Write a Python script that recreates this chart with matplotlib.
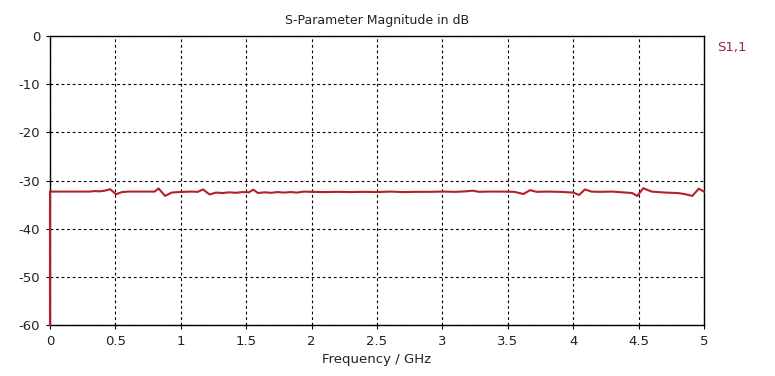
import matplotlib
matplotlib.use("Agg")
import matplotlib.pyplot as plt

plt.rcParams["axes.unicode_minus"] = False

# S1,1 magnitude (GHz, dB)
freq = [0.0, 0.0, 0.05, 0.20, 0.30, 0.34, 0.38, 0.42, 0.46, 0.505, 0.55,
        0.60, 0.70, 0.80, 0.83, 0.88, 0.93, 0.98, 1.03, 1.08, 1.13, 1.17,
        1.22, 1.27, 1.32, 1.37, 1.42, 1.47, 1.52, 1.555, 1.59, 1.64, 1.69,
        1.74, 1.79, 1.84, 1.89, 1.94, 1.99, 2.1, 2.2, 2.3, 2.4, 2.5, 2.6,
        2.7, 2.8, 2.9, 3.0, 3.1, 3.18, 3.23, 3.28, 3.35, 3.45, 3.55, 3.62,
        3.67, 3.72, 3.8, 3.9, 4.0, 4.045, 4.09, 4.14, 4.2, 4.3, 4.4, 4.45,
        4.49, 4.535, 4.6, 4.7, 4.8, 4.85, 4.91, 4.96, 5.0]
s11 = [-60.0, -32.3, -32.3, -32.3, -32.3, -32.2, -32.25, -32.1, -31.8, -32.85, -32.4,
       -32.3, -32.3, -32.3, -31.65, -33.2, -32.5, -32.4, -32.35, -32.3, -32.35, -31.85,
       -32.9, -32.5, -32.6, -32.45, -32.55, -32.4, -32.45, -31.9, -32.6, -32.45, -32.55,
       -32.4, -32.5, -32.4, -32.5, -32.3, -32.35, -32.4, -32.35, -32.4, -32.35, -32.4, -32.3,
       -32.4, -32.35, -32.35, -32.3, -32.35, -32.25, -32.1, -32.35, -32.3, -32.3, -32.35, -32.8,
       -32.0, -32.35, -32.3, -32.35, -32.5, -33.0, -31.85, -32.3, -32.35, -32.3, -32.5, -32.6,
       -33.2, -31.6, -32.3, -32.5, -32.6, -32.8, -33.2, -31.7, -32.3]

xticks = [0, 0.5, 1, 1.5, 2, 2.5, 3, 3.5, 4, 4.5, 5]
xlabels = ["0", "0.5", "1", "1.5", "2", "2.5", "3", "3.5", "4", "4.5", "5"]
yticks = [0, -10, -20, -30, -40, -50, -60]

fig = plt.figure(figsize=(7.75, 3.76), dpi=100)
ax = fig.add_axes([0.0645, 0.1356, 0.8439, 0.7686])

ax.plot(freq, s11, color="#b3202a", lw=1.5, clip_on=False, zorder=5)

ax.set_xlim(0, 5)
ax.set_ylim(-60, 0)
ax.set_xticks(xticks)
ax.set_xticklabels(xlabels)
ax.set_yticks(yticks)
ax.grid(True, color="black", linestyle=(0, (2.5, 2.5)), linewidth=0.8)
ax.tick_params(direction="out", length=3, width=0.8, labelsize=9.5, pad=4,
               labelcolor="#222222")
for sp in ax.spines.values():
    sp.set_linewidth(1.0)

ax.set_title("S-Parameter Magnitude in dB", fontsize=9, pad=9, color="#222222")
ax.set_xlabel("Frequency / GHz", fontsize=9.5, labelpad=4, color="#222222")
fig.text(0.925, 0.873, "S1,1", color="#9a2a35", fontsize=9.5, va="center")

fig.savefig("out.png", dpi=100)
